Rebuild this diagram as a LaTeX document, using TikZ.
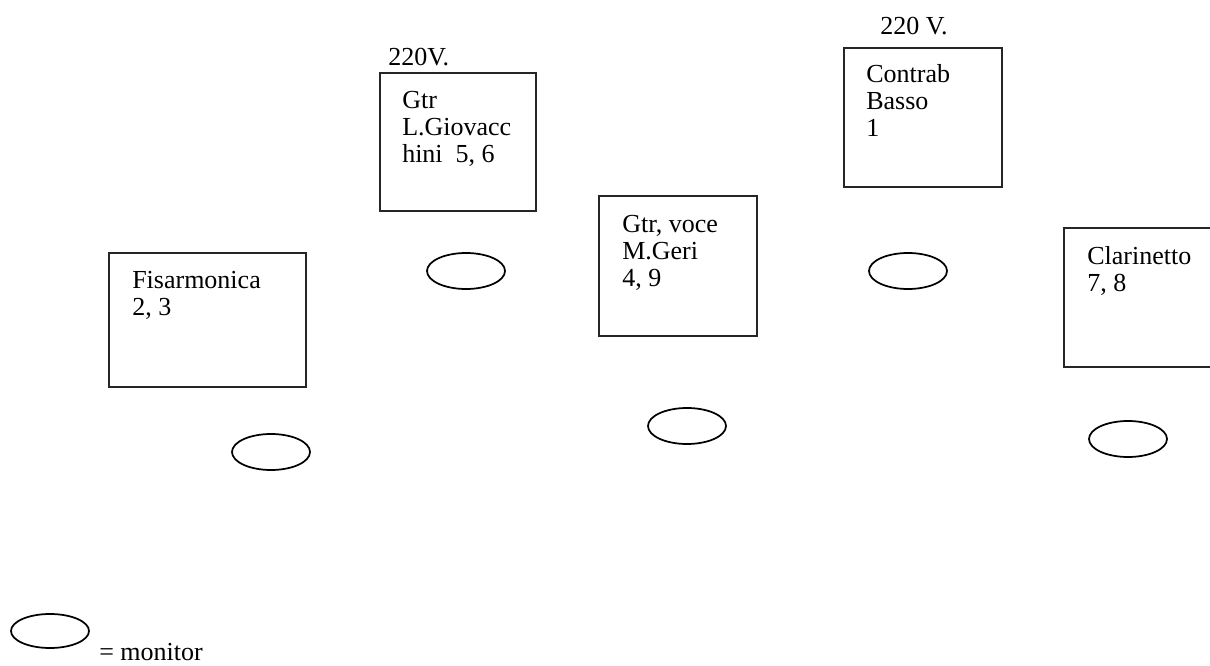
\documentclass[tikz,border=0pt]{standalone}
\usepackage{fontspec}
\setmainfont{Liberation Serif}

\begin{document}
\begin{tikzpicture}[x=0.75pt,y=-0.75pt,
    stagebox/.style={draw=black!85, line width=1.1pt},
    monitor/.style={draw=black, line width=1.3pt},
    boxtext/.style={anchor=north west, inner sep=0pt, align=left,
        font=\fontsize{19.5}{20.4}\selectfont},
    plaintext/.style={anchor=base west, inner sep=0pt,
        font=\fontsize{19.5}{20.4}\selectfont}]

    % Frame
    \clip (0,0) rectangle (1210,666);

    % Fisarmonica
    \draw[stagebox] (109,253) rectangle (306,387);
    \node[boxtext] (fisa) at (132,271) {Fisarmonica\\2, 3};

    % Gtr Giovacchini
    \node[plaintext] (volt1) at (388,66) {220V.};
    \draw[stagebox] (380,73) rectangle (536,211);
    \node[boxtext] (giov) at (402,91) {Gtr\\L.Giovacc\\hini~~5, 6};

    % Gtr, voce
    \draw[stagebox] (599,196) rectangle (757,336);
    \node[boxtext] (voce) at (622,215) {Gtr, voce\\M.Geri\\4, 9};

    % Contrabbasso
    \node[plaintext] (volt2) at (880,35) {220 V.};
    \draw[stagebox] (844,48) rectangle (1002,187);
    \node[boxtext] (basso) at (866,64) {Contrab\\Basso\\1};

    % Clarinetto (runs off the right edge)
    \draw[stagebox] (1064,228) rectangle (1230,367);
    \node[boxtext] (clar) at (1087,246) {Clarinetto\\7, 8};

    % Monitors
    \foreach \cx/\cy in {466/271, 908/271, 687/426, 271/452, 1128/439} {
        \draw[monitor] (\cx,\cy) ellipse [x radius=39, y radius=18];
    }

    % Legend
    \draw[monitor] (50,631) ellipse [x radius=39, y radius=17];
    \node[plaintext] (legend) at (99,660) {= monitor};

\end{tikzpicture}
\end{document}
